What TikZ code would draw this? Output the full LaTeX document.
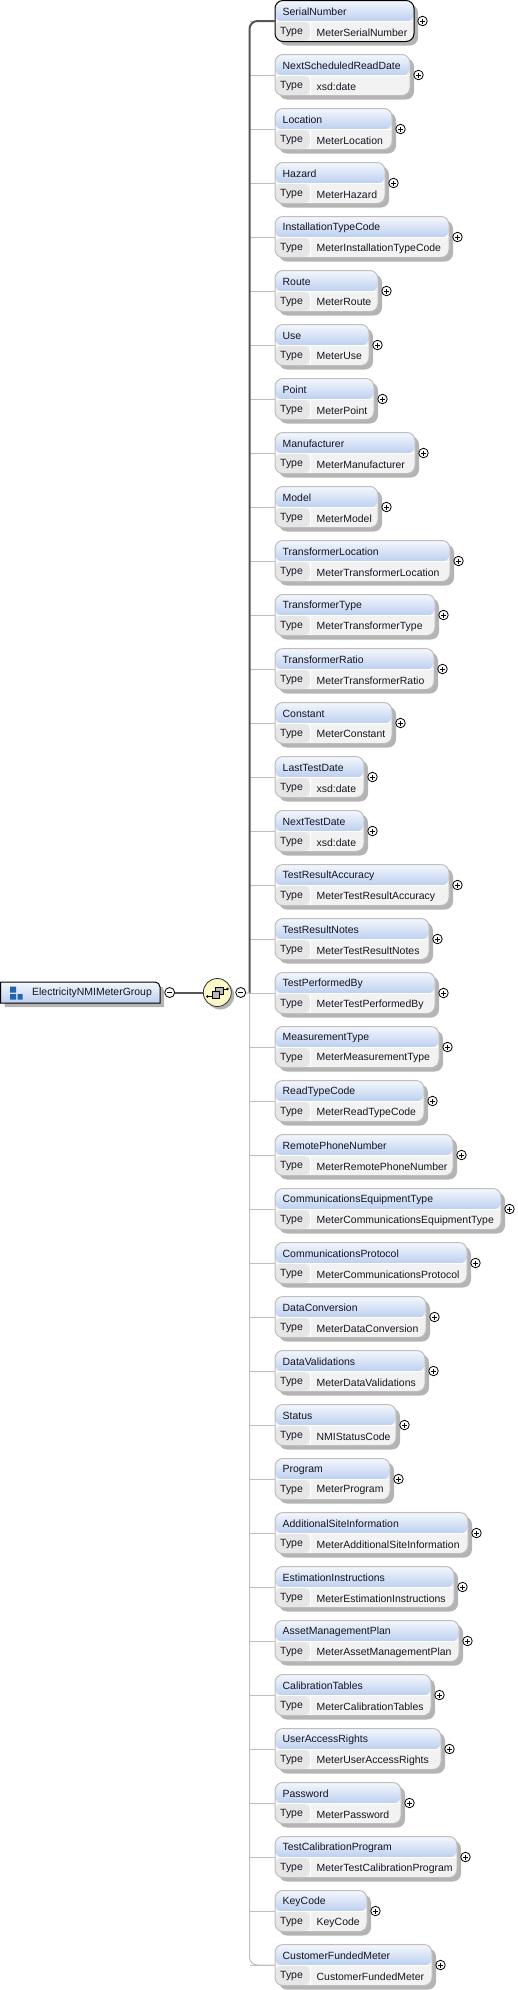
\documentclass[tikz,border=0pt]{standalone}
\usepackage{fontspec}
\setmainfont{Liberation Sans}
\usetikzlibrary{positioning, calc, shadows}

\definecolor{headtop}{HTML}{F4F7FC}
\definecolor{headbot}{HTML}{BCCFF0}
\definecolor{rimgray}{HTML}{BEBEBE}
\definecolor{shadegray}{HTML}{B4B4B4}
\definecolor{cellgray}{HTML}{E6E6E6}
\definecolor{valgray}{HTML}{F2F2F2}
\definecolor{linkgray}{HTML}{555555}
\definecolor{compfill}{HTML}{FDF8C6}
\definecolor{iconblue}{HTML}{2463AE}
\definecolor{inktext}{HTML}{15151F}

\begin{document}
\begin{tikzpicture}[
  x=1pt, y=-1pt,
  font=\fontsize{10.45}{12}\selectfont, text=inktext,
  elementbox/.style={line width=1pt, rounded corners=8pt, anchor=north west,
    minimum height=41pt, inner sep=0pt, outer sep=0pt,
    drop shadow={shadow xshift=4pt, shadow yshift=-4pt, fill=shadegray, opacity=1},
    path picture={
      \fill[valgray] (path picture bounding box.north west) rectangle (path picture bounding box.south east);
      \fill[cellgray] ([yshift=-21pt]path picture bounding box.north west) rectangle ([xshift=35pt]path picture bounding box.south west);
      \shade[top color=headtop, bottom color=headbot] (path picture bounding box.north west) rectangle ([yshift=-21pt]path picture bounding box.north east);
      \draw[white, line width=1pt] ([yshift=-21pt]path picture bounding box.north west) -- ([yshift=-21pt]path picture bounding box.north east);
      \draw[white, line width=1pt] ([xshift=35pt,yshift=-21pt]path picture bounding box.north west) -- ([xshift=35pt]path picture bounding box.south west);
    }},
  eltext/.style={anchor=west, inner sep=0pt},
  plusmark/.style={draw=black, fill=white, circle, line width=0.8pt, minimum size=9.5pt, inner sep=0pt,
    path picture={
      \draw[black, line width=0.7pt] (path picture bounding box.center) ++(-2.5pt,0) -- ++(5pt,0);
      \draw[black, line width=0.7pt] (path picture bounding box.center) ++(0,-2.5pt) -- ++(0,5pt);
    }},
  minusmark/.style={draw=black, fill=white, circle, line width=0.8pt, minimum size=10pt, inner sep=0pt,
    path picture={
      \draw[black, line width=0.7pt] (path picture bounding box.center) ++(-2.5pt,0) -- ++(5pt,0);
    }},
  linklight/.style={draw=rimgray, line width=1pt},
  linkdark/.style={draw=linkgray, line width=2pt},
  compositor/.style={circle, draw=black!80, fill=compfill, line width=0.8pt, minimum size=28pt, inner sep=0pt,
    drop shadow={shadow xshift=3pt, shadow yshift=-3pt, fill=shadegray, opacity=1}}
]
\useasboundingbox (0,0) rectangle (517,1990);

% --- the child elements, top to bottom ---
\foreach \ename/\etype/\eright [count=\i from 0] in {
  SerialNumber/MeterSerialNumber/414,
  NextScheduledReadDate/xsd:date/410,
  Location/MeterLocation/392,
  Hazard/MeterHazard/385,
  InstallationTypeCode/MeterInstallationTypeCode/449,
  Route/MeterRoute/378,
  Use/MeterUse/369,
  Point/MeterPoint/374,
  Manufacturer/MeterManufacturer/415,
  Model/MeterModel/378,
  TransformerLocation/MeterTransformerLocation/450,
  TransformerType/MeterTransformerType/435,
  TransformerRatio/MeterTransformerRatio/434,
  Constant/MeterConstant/392,
  LastTestDate/xsd:date/364,
  NextTestDate/xsd:date/364,
  TestResultAccuracy/MeterTestResultAccuracy/449,
  TestResultNotes/MeterTestResultNotes/429,
  TestPerformedBy/MeterTestPerformedBy/435,
  MeasurementType/MeterMeasurementType/439,
  ReadTypeCode/MeterReadTypeCode/424,
  RemotePhoneNumber/MeterRemotePhoneNumber/453,
  CommunicationsEquipmentType/MeterCommunicationsEquipmentType/501,
  CommunicationsProtocol/MeterCommunicationsProtocol/467,
  DataConversion/MeterDataConversion/426,
  DataValidations/MeterDataValidations/425,
  Status/NMIStatusCode/396,
  Program/MeterProgram/390,
  AdditionalSiteInformation/MeterAdditionalSiteInformation/468,
  EstimationInstructions/MeterEstimationInstructions/454,
  AssetManagementPlan/MeterAssetManagementPlan/459,
  CalibrationTables/MeterCalibrationTables/431,
  UserAccessRights/MeterUserAccessRights/441,
  Password/MeterPassword/401,
  TestCalibrationProgram/MeterTestCalibrationProgram/457,
  KeyCode/KeyCode/367,
  CustomerFundedMeter/CustomerFundedMeter/432}
{
  \pgfmathsetmacro{\etop}{\i*54+0.5}
  \ifnum\i=0 \def\erim{black}\else \def\erim{rimgray}\fi
  \coordinate (trunk\i) at (249.5,\etop+20.5);
  \node[elementbox, draw=\erim, minimum width={(\eright-275)*1pt}] (el\i) at (275,\etop) {};
  \node[eltext] (name\i) at (282.5,\etop+11.3) {\ename};
  \node[eltext] (kind\i) at (280,\etop+31.8) {Type};
  \node[eltext] (type\i) at (316.5,\etop+31.8) {\etype};
  \node[plusmark] (plus\i) at (\eright+8.5,\etop+20.5) {};
  \draw[linklight] (trunk\i) -- (el\i.west);
}

% --- the trunk ---
\draw[linklight, rounded corners=8pt] (trunk18) -- (trunk36) -- (el36.west);
\draw[linkdark, rounded corners=8pt] (el0.west) -- (trunk0) -- (trunk18);

% --- the group and its sequence ---
\coordinate (rootsw) at (0.5,1003);
\coordinate (rootne) at (160,982);
\fill[shadegray] ([xshift=4pt,yshift=-4pt]rootsw) -- ([xshift=4pt,yshift=-4pt]rootsw |- rootne) [rounded corners=5pt] -- ([xshift=4pt,yshift=-4pt]rootne) [sharp corners] -- ([xshift=4pt,yshift=-4pt]rootne |- rootsw) -- cycle;
\shadedraw[draw=black, line width=1pt, top color=headtop, bottom color=headbot] (rootsw) -- (rootsw |- rootne) [rounded corners=5pt] -- (rootne) [sharp corners] -- (rootne |- rootsw) -- cycle;
\node[eltext] (root) at (32,993) {ElectricityNMIMeterGroup};
\fill[iconblue] (10,986.5) rectangle (16,992.5) (10,994) rectangle (16,999.5) (17.5,994) rectangle (22.5,999.5);

\node[minusmark] (rootminus) at (169.7,992.5) {};
\node[compositor] (seq) at (217.3,992.5) {};
\node[minusmark] (seqminus) at (240.7,992.5) {};
\draw[linkdark] (rootminus) -- (seq);
\draw[linklight, line width=1.2pt] (seqminus) -- (trunk18);

% sequence glyph
\draw[black, line width=0.8pt] (207.5,996.5) -- (212,996.5) (223,989) -- (227.5,989);
\fill[black] (207.5,996.5) circle (1.4pt) (227.5,989) circle (1.4pt);
\draw[black, fill=gray!55, line width=0.7pt] (215.5,987) rectangle (223,994.5);
\draw[black, fill=gray!55, line width=0.7pt] (212,991.5) rectangle (219,998.5);

\end{tikzpicture}
\end{document}
